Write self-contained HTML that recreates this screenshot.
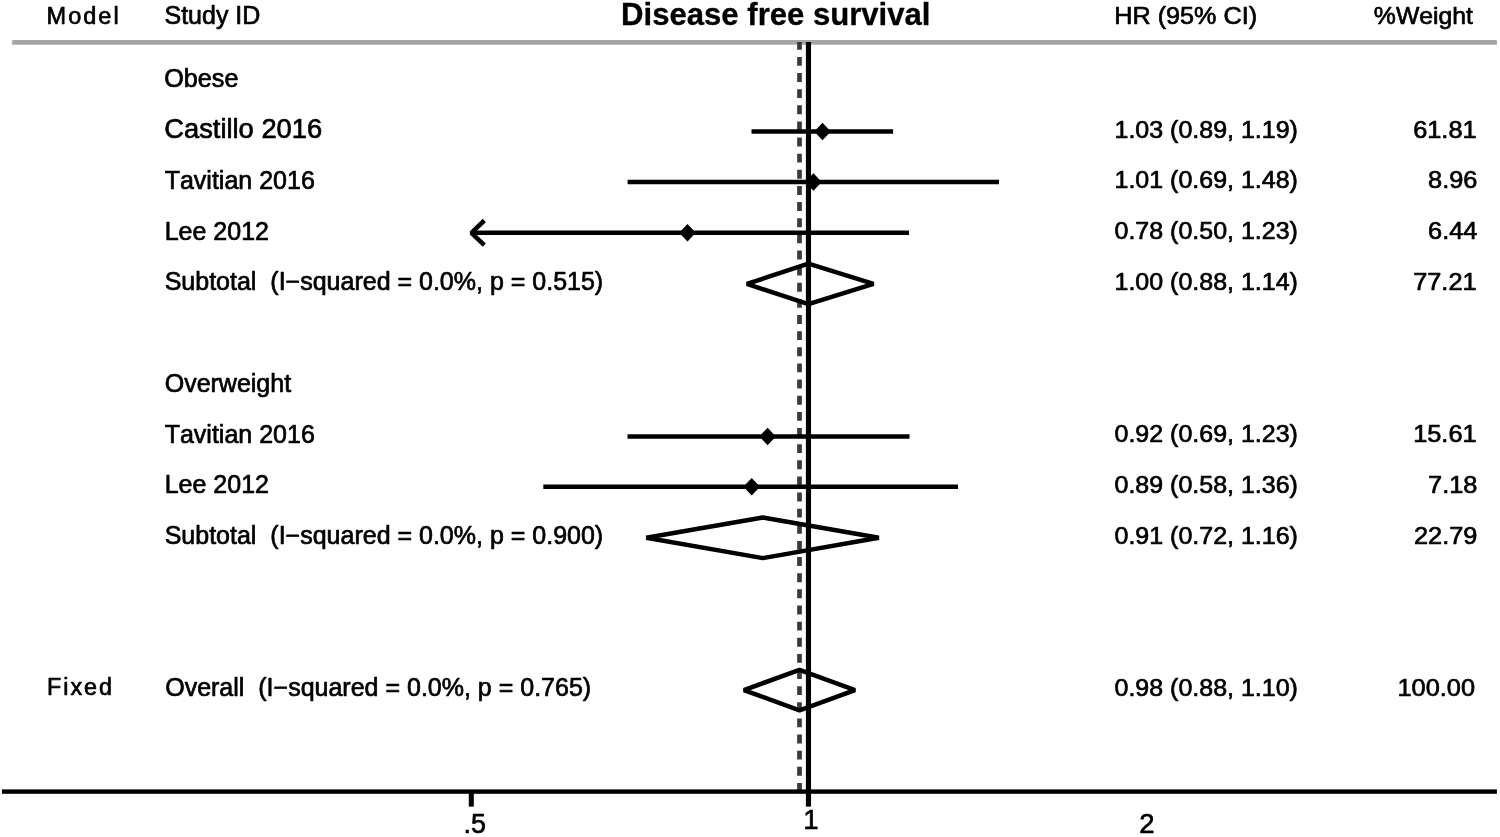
<!DOCTYPE html>
<html lang="en">
<head>
<meta charset="utf-8">
<title>Disease free survival</title>
<style>
html,body{margin:0;padding:0;background:#fff;}
body{width:1500px;height:837px;overflow:hidden;font-family:"Liberation Sans",Arial,Helvetica,sans-serif;}
svg{display:block;}
text{white-space:pre;font-kerning:none;fill:#000;stroke:#000;stroke-width:0.68px;stroke-linejoin:round;}
</style>
</head>
<body>
<svg width="1500" height="837" viewBox="0 0 1500 837" font-family="Liberation Sans, Arial, Helvetica, sans-serif">
<rect x="0" y="0" width="1500" height="837" fill="#fff"/>
<g>
<rect x="12.2" y="40.05" width="1484.7" height="4.65" fill="#a4a4a4"/>
<line x1="799.5" y1="42.1" x2="799.5" y2="790" stroke="#3a3a3a" stroke-width="4.7" stroke-dasharray="8.9 7.235" stroke-dashoffset="1.33"/>
<rect x="805.9" y="42.0" width="5.15" height="764.6" fill="#000"/>
<rect x="1.9" y="789.4" width="1495" height="4.4" fill="#000"/>
<rect x="468.8" y="790" width="5.0" height="16.6" fill="#000"/>
<line x1="751.5" y1="131.4" x2="893.1" y2="131.4" stroke="#000" stroke-width="4.5"/>
<polygon points="814.2,131.4 822.5,122.65 830.8,131.4 822.5,140.15" fill="#000"/>
<line x1="627.6" y1="182.1" x2="999.0" y2="182.1" stroke="#000" stroke-width="4.5"/>
<polygon points="805.1,182.1 813.4,173.35 821.7,182.1 813.4,190.85" fill="#000"/>
<line x1="471.4" y1="232.85" x2="909.0" y2="232.85" stroke="#000" stroke-width="4.5"/>
<polygon points="679.2,232.85 687.5,224.10 695.8,232.85 687.5,241.60" fill="#000"/>
<polyline points="484.3,220.5 471.4,232.85 484.3,245.2" fill="none" stroke="#000" stroke-width="4.5" stroke-linejoin="bevel"/>
<line x1="627.5" y1="436.4" x2="909.5" y2="436.4" stroke="#000" stroke-width="4.5"/>
<polygon points="759.3,436.4 767.6,427.65 775.9,436.4 767.6,445.15" fill="#000"/>
<line x1="543.3" y1="486.8" x2="958.0" y2="486.8" stroke="#000" stroke-width="4.5"/>
<polygon points="743.4,486.8 751.7,478.05 760.0,486.8 751.7,495.55" fill="#000"/>
<polygon points="746.9,283.9 808.4,263.59999999999997 873.5,283.9 808.4,304.2" fill="none" stroke="#000" stroke-width="4.5" stroke-linejoin="bevel"/>
<polygon points="646.3,537.8 762.8,517.5 878.8,537.8 762.8,558.0999999999999" fill="none" stroke="#000" stroke-width="4.5" stroke-linejoin="bevel"/>
<polygon points="743.9,690.1 799.5,669.8000000000001 855.0,690.1 799.5,710.4" fill="none" stroke="#000" stroke-width="4.5" stroke-linejoin="bevel"/>
</g>
<g>
<text x="46.6" y="23.8" font-size="23.5" letter-spacing="2.0" xml:space="preserve">Model</text>
<text x="164.5" y="24.0" font-size="25.0" xml:space="preserve">Study ID</text>
<text transform="translate(621.1,24.75) scale(1.013,1)" font-size="30.7" font-weight="bold" style="stroke-width:0.3px" xml:space="preserve">Disease free survival</text>
<text transform="translate(1114.3,24.0) scale(1.033,1)" font-size="24.4" xml:space="preserve">HR (95% CI)</text>
<text transform="translate(1473.0,24.0) scale(1.02,1)" font-size="24.3" text-anchor="end" xml:space="preserve">%Weight</text>
<text x="164.29999999999998" y="86.7" font-size="25.15" xml:space="preserve">Obese</text>
<text x="164.29999999999998" y="137.6" font-size="27.3" xml:space="preserve">Castillo 2016</text>
<text x="164.7" y="188.6" font-size="25" xml:space="preserve">Tavitian 2016</text>
<text x="164.7" y="239.6" font-size="25" xml:space="preserve">Lee 2012</text>
<text x="164.7" y="289.6" font-size="25" xml:space="preserve">Subtotal  (I−squared = 0.0%, p = 0.515)</text>
<text x="164.7" y="391.5" font-size="25" xml:space="preserve">Overweight</text>
<text x="164.7" y="442.5" font-size="25" xml:space="preserve">Tavitian 2016</text>
<text x="164.7" y="493.3" font-size="25" xml:space="preserve">Lee 2012</text>
<text x="164.7" y="544.3" font-size="25" xml:space="preserve">Subtotal  (I−squared = 0.0%, p = 0.900)</text>
<text x="165.2" y="696.0" font-size="25" xml:space="preserve">Overall  (I−squared = 0.0%, p = 0.765)</text>
<text x="47.1" y="695.4" font-size="23.3" letter-spacing="1.95" xml:space="preserve">Fixed</text>
<text transform="translate(1114.5,137.7) scale(1.042,1)" font-size="24" xml:space="preserve">1.03 (0.89, 1.19)</text>
<text transform="translate(1476.6000000000001,137.7) scale(1.057,1)" font-size="24" text-anchor="end" xml:space="preserve">61.81</text>
<text transform="translate(1114.5,188.3) scale(1.042,1)" font-size="24" xml:space="preserve">1.01 (0.69, 1.48)</text>
<text transform="translate(1477.4,188.3) scale(1.057,1)" font-size="24" text-anchor="end" xml:space="preserve">8.96</text>
<text transform="translate(1114.5,239.3) scale(1.042,1)" font-size="24" xml:space="preserve">0.78 (0.50, 1.23)</text>
<text transform="translate(1477.4,239.3) scale(1.057,1)" font-size="24" text-anchor="end" xml:space="preserve">6.44</text>
<text transform="translate(1114.5,290.0) scale(1.042,1)" font-size="24" xml:space="preserve">1.00 (0.88, 1.14)</text>
<text transform="translate(1476.6000000000001,290.0) scale(1.057,1)" font-size="24" text-anchor="end" xml:space="preserve">77.21</text>
<text transform="translate(1114.5,441.8) scale(1.042,1)" font-size="24" xml:space="preserve">0.92 (0.69, 1.23)</text>
<text transform="translate(1476.6000000000001,441.8) scale(1.057,1)" font-size="24" text-anchor="end" xml:space="preserve">15.61</text>
<text transform="translate(1114.5,493.2) scale(1.042,1)" font-size="24" xml:space="preserve">0.89 (0.58, 1.36)</text>
<text transform="translate(1477.4,493.2) scale(1.057,1)" font-size="24" text-anchor="end" xml:space="preserve">7.18</text>
<text transform="translate(1114.5,543.9) scale(1.042,1)" font-size="24" xml:space="preserve">0.91 (0.72, 1.16)</text>
<text transform="translate(1477.4,543.9) scale(1.057,1)" font-size="24" text-anchor="end" xml:space="preserve">22.79</text>
<text transform="translate(1114.5,696.2) scale(1.042,1)" font-size="24" xml:space="preserve">0.98 (0.88, 1.10)</text>
<text transform="translate(1475.0,696.2) scale(1.057,1)" font-size="24" text-anchor="end" xml:space="preserve">100.00</text>
<text x="474.7" y="832.8" font-size="26.8" text-anchor="middle" xml:space="preserve">.5</text>
<text x="810.8" y="829.0" font-size="27.5" text-anchor="middle" xml:space="preserve">1</text>
<text x="1147.0" y="832.5" font-size="27.5" text-anchor="middle" xml:space="preserve">2</text>
</g>
</svg>
</body>
</html>
